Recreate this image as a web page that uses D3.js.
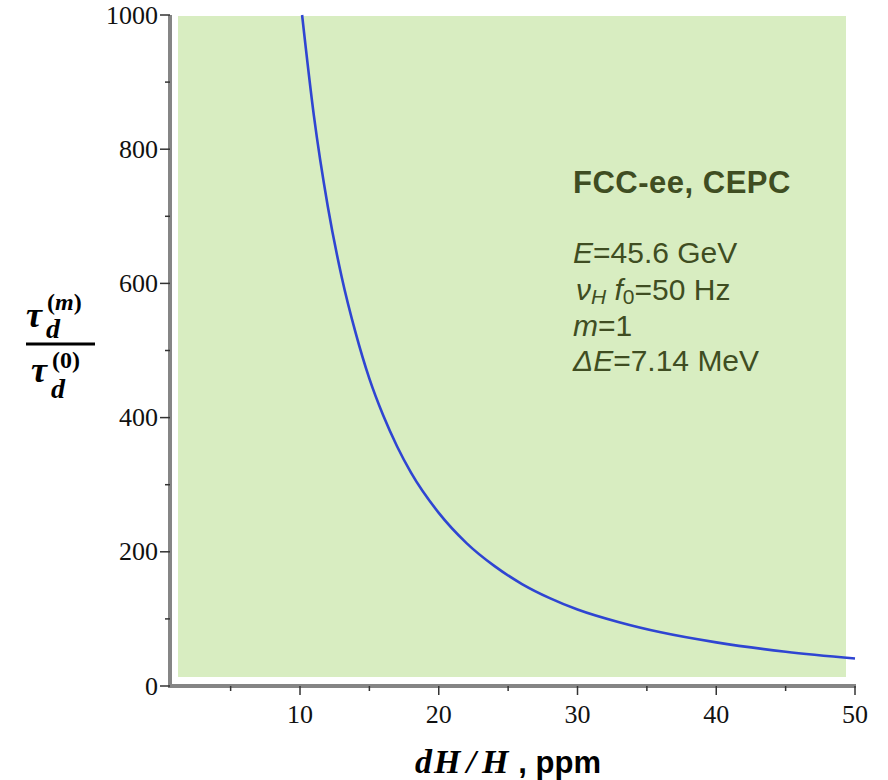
<!DOCTYPE html>
<html>
<head>
<meta charset="utf-8">
<script src="https://cdn.jsdelivr.net/npm/d3@7"></script>
<style>
  body { margin: 0; background: #fff; }
  .tick-label { font-family: "Liberation Serif", serif; font-size: 26px; fill: #111; }
</style>
</head>
<body>
<svg id="chart" width="888" height="780"></svg>
<script>
// dH/H (ppm) and tau_d(m)/tau_d(0)
var dH = [10.15, 11, 12, 13, 14, 15, 16, 17, 18, 20, 22, 24, 26, 28, 30, 33, 36, 40, 45, 50];
var ratio = [1000, 850, 715, 610, 527, 458, 403, 357, 318, 258, 213, 179, 152, 131, 114, 95, 80, 65, 51, 41];

var xMajor = [10, 20, 30, 40, 50];
var xMinor = [5, 15, 25, 35, 45];
var yMajor = [0, 200, 400, 600, 800, 1000];
var yMinor = [100, 300, 500, 700, 900];

var svg = d3.select("svg#chart");

var x = d3.scaleLinear().domain([0.63, 50]).range([170, 855]);
var y = d3.scaleLinear().domain([0, 1000]).range([686, 15]);

// plot background
svg.append("rect")
    .attr("x", 178).attr("y", 16)
    .attr("width", 846 - 178).attr("height", 677 - 16)
    .attr("fill", "#d8edc1");

// curve
var line = d3.line()
    .x(function(d, i) { return x(dH[i]); })
    .y(function(d) { return y(d); })
    .curve(d3.curveMonotoneX);

svg.append("path")
    .datum(ratio)
    .attr("d", line)
    .attr("fill", "none")
    .attr("stroke", "#2f45d2")
    .attr("stroke-width", 2.6);

// axes lines
svg.append("line")
    .attr("x1", x(0.63)).attr("x2", x(0.63))
    .attr("y1", y(1000)).attr("y2", y(0))
    .attr("stroke", "#858585").attr("stroke-width", 4);
svg.append("line")
    .attr("x1", x(0.63) - 2).attr("x2", x(50) + 1)
    .attr("y1", y(0)).attr("y2", y(0))
    .attr("stroke", "#858585").attr("stroke-width", 4);

// y ticks
svg.selectAll(".ymaj").data(yMajor).enter().append("line")
    .attr("x1", 160).attr("x2", 170)
    .attr("y1", function(d) { return y(d); }).attr("y2", function(d) { return y(d); })
    .attr("stroke", "#333").attr("stroke-width", 1.5);
svg.selectAll(".ymin").data(yMinor).enter().append("line")
    .attr("x1", 165).attr("x2", 170)
    .attr("y1", function(d) { return y(d); }).attr("y2", function(d) { return y(d); })
    .attr("stroke", "#333").attr("stroke-width", 1.5);
svg.selectAll(".ylab").data(yMajor).enter().append("text")
    .attr("class", "tick-label")
    .attr("x", 158)
    .attr("y", function(d) { return y(d); })
    .attr("dy", "0.33em")
    .attr("text-anchor", "end")
    .text(function(d) { return d; });

// x ticks
svg.selectAll(".xmaj").data(xMajor).enter().append("line")
    .attr("x1", function(d) { return x(d); }).attr("x2", function(d) { return x(d); })
    .attr("y1", 686).attr("y2", 695)
    .attr("stroke", "#333").attr("stroke-width", 1.5);
svg.selectAll(".xmin").data(xMinor).enter().append("line")
    .attr("x1", function(d) { return x(d); }).attr("x2", function(d) { return x(d); })
    .attr("y1", 686).attr("y2", 691)
    .attr("stroke", "#333").attr("stroke-width", 1.5);
svg.selectAll(".xlab").data(xMajor).enter().append("text")
    .attr("class", "tick-label")
    .attr("x", function(d) { return x(d); })
    .attr("y", 723)
    .attr("text-anchor", "middle")
    .text(function(d) { return d; });

// x axis title
var xt = svg.append("text")
    .attr("x", 415).attr("y", 773)
    .style("font-family", "Liberation Serif, serif")
    .style("font-size", "34px")
    .style("font-style", "italic")
    .style("font-weight", "bold")
    .attr("fill", "#000");
xt.append("tspan").text("d");
xt.append("tspan").attr("dx", 2).text("H");
xt.append("tspan").attr("dx", 6).text("/");
xt.append("tspan").attr("dx", 6).text("H");
xt.append("tspan").attr("dx", 10)
    .style("font-family", "Liberation Sans, sans-serif")
    .style("font-style", "normal").style("font-weight", "bold")
    .style("font-size", "31px")
    .text(", ppm");

// y axis title (fraction)
var yt = svg.append("g")
    .style("font-family", "Liberation Serif, serif")
    .style("font-weight", "bold")
    .attr("fill", "#000");
function tau(gx, base, sup, supBase, dBase) {
  yt.append("text").attr("x", gx).attr("y", base)
      .style("font-size", "36px").style("font-style", "italic").text("τ");
  var s = yt.append("text").attr("x", gx + 21).attr("y", supBase)
      .style("font-size", "24px");
  s.append("tspan").text("(");
  if (sup === "m") s.append("tspan").style("font-style", "italic").text("m");
  else s.append("tspan").text(sup);
  s.append("tspan").text(")");
  yt.append("text").attr("x", gx + 20).attr("y", dBase)
      .style("font-size", "28px").style("font-style", "italic").text("d");
}
tau(26, 327, "m", 310, 338);
yt.append("line").attr("x1", 26).attr("x2", 95).attr("y1", 344).attr("y2", 344)
    .attr("stroke", "#000").attr("stroke-width", 3);
tau(31, 382, "0", 368, 398);

// annotations
var ann = svg.append("g")
    .style("font-family", "Liberation Sans, Arial, sans-serif")
    .attr("fill", "#3f4d22");
ann.append("text").attr("x", 573).attr("y", 193)
    .style("font-size", "31px").style("font-weight", "bold")
    .style("letter-spacing", "0.5px")
    .text("FCC-ee, CEPC");

var lineY = [263, 300, 336, 371];
var fs = "30px";
var t1 = ann.append("text").attr("x", 573).attr("y", lineY[0]).style("font-size", fs);
t1.append("tspan").style("font-style", "italic").text("E");
t1.append("tspan").text("=45.6 GeV");

var t2 = ann.append("text").attr("x", 576).attr("y", lineY[1]).style("font-size", fs);
t2.append("tspan").style("font-style", "italic").text("ν");
t2.append("tspan").style("font-style", "italic").style("font-size", "21px").attr("dy", 4).text("H");
t2.append("tspan").style("font-style", "italic").attr("dy", -4).text(" f");
t2.append("tspan").style("font-size", "21px").attr("dy", 4).text("0");
t2.append("tspan").attr("dy", -4).text("=50 Hz");

var t3 = ann.append("text").attr("x", 573).attr("y", lineY[2]).style("font-size", fs);
t3.append("tspan").style("font-style", "italic").text("m");
t3.append("tspan").text("=1");

var t4 = ann.append("text").attr("x", 573).attr("y", lineY[3]).style("font-size", fs);
t4.append("tspan").style("font-style", "italic").text("ΔE");
t4.append("tspan").text("=7.14 MeV");
</script>
</body>
</html>
